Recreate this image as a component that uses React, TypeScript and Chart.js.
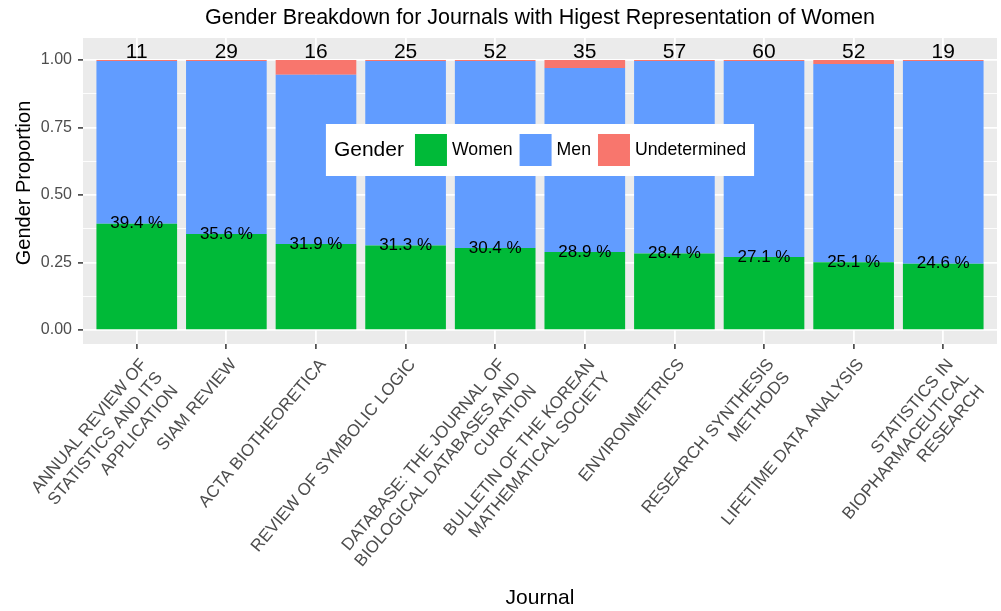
import { useEffect, useRef } from 'react';
import { Chart, registerables } from 'chart.js';

Chart.register(...registerables);

const chartTitle = 'Gender Breakdown for Journals with Higest Representation of Women';
const yAxisTitle = 'Gender Proportion';
const journals: string[][] = [
  ['ANNUAL REVIEW OF', 'STATISTICS AND ITS', 'APPLICATION'],
  ['SIAM REVIEW'],
  ['ACTA BIOTHEORETICA'],
  ['REVIEW OF SYMBOLIC LOGIC'],
  ['DATABASE: THE JOURNAL OF', 'BIOLOGICAL DATABASES AND', 'CURATION'],
  ['BULLETIN OF THE KOREAN', 'MATHEMATICAL SOCIETY'],
  ['ENVIRONMETRICS'],
  ['RESEARCH SYNTHESIS', 'METHODS'],
  ['LIFETIME DATA ANALYSIS'],
  ['STATISTICS IN', 'BIOPHARMACEUTICAL', 'RESEARCH'],
];
const paperCounts: number[] = [11, 29, 16, 25, 52, 35, 57, 60, 52, 19];
const women: number[] = [0.394, 0.356, 0.319, 0.313, 0.304, 0.289, 0.284, 0.271, 0.251, 0.246];
const men: number[] = [0.602, 0.640, 0.626, 0.683, 0.692, 0.681, 0.712, 0.725, 0.734, 0.750];
const undetermined: number[] = [0.004, 0.004, 0.055, 0.004, 0.004, 0.030, 0.004, 0.004, 0.015, 0.004];
const yTicks: number[] = [0, 0.125, 0.25, 0.375, 0.5, 0.625, 0.75, 0.875, 1];
const yMajor: number[] = [0, 0.25, 0.5, 0.75, 1];
const countLabelY = 1.03;

const seriesNames = ['Women', 'Men', 'Undetermined'];
const seriesColors = ['#00BA38', '#619CFF', '#F8766D'];

const FONT = "'Liberation Sans', Arial, Helvetica, sans-serif";

export default function App() {
  const ref = useRef<HTMLCanvasElement | null>(null);

  useEffect(() => {
    const canvas = ref.current;
    if (!canvas) return;
    Chart.defaults.font.family = FONT;

    const toXY = (arr: number[]) => arr.map((v, i) => ({ x: i + 1, y: v }));
    const seriesData = [women, men, undetermined];

    const bgPlugin = {
      id: 'panelBg',
      beforeDraw(chart: any) {
        const { ctx, chartArea } = chart;
        ctx.save();
        ctx.fillStyle = '#EBEBEB';
        ctx.fillRect(chartArea.left, chartArea.top, chartArea.right - chartArea.left, chartArea.bottom - chartArea.top);
        ctx.restore();
      },
    };

    const titlePlugin = {
      id: 'panelTitles',
      afterDraw(chart: any) {
        const { ctx, chartArea } = chart;
        ctx.save();
        ctx.fillStyle = '#000000';
        ctx.textAlign = 'center';
        ctx.textBaseline = 'middle';
        ctx.font = `21.5px ${FONT}`;
        ctx.fillText(chartTitle, (chartArea.left + chartArea.right) / 2, 18);
        ctx.font = `20px ${FONT}`;
        ctx.translate(24, (chartArea.top + chartArea.bottom) / 2 - 8);
        ctx.rotate(-Math.PI / 2);
        ctx.fillText(yAxisTitle, 0, 0);
        ctx.restore();
      },
    };

    const labelPlugin = {
      id: 'barLabels',
      afterDatasetsDraw(chart: any) {
        const { ctx } = chart;
        const xs = chart.scales.x;
        const ys = chart.scales.y;
        ctx.save();
        ctx.fillStyle = '#000000';
        ctx.textAlign = 'center';
        ctx.textBaseline = 'middle';
        ctx.font = `21px ${FONT}`;
        paperCounts.forEach((c, i) => {
          ctx.fillText(String(c), xs.getPixelForValue(i + 1), ys.getPixelForValue(countLabelY));
        });
        ctx.font = `17px ${FONT}`;
        women.forEach((w, i) => {
          ctx.fillText(`${(w * 100).toFixed(1)} %`, xs.getPixelForValue(i + 1), ys.getPixelForValue(w));
        });
        ctx.restore();
      },
    };

    const legendPlugin = {
      id: 'insideLegend',
      afterDraw(chart: any) {
        const { ctx, chartArea } = chart;
        const titleFont = `21px ${FONT}`;
        const itemFont = `17.7px ${FONT}`;
        const pad = 8;
        const key = 32;
        const gapTitle = 11;
        const gapKey = 5;
        const gapItem = 7;
        ctx.save();
        ctx.font = titleFont;
        const tw = ctx.measureText('Gender').width;
        ctx.font = itemFont;
        const iw = seriesNames.map((n) => ctx.measureText(n).width);
        let total = pad + tw + gapTitle;
        iw.forEach((w, i) => {
          total += key + gapKey + w + (i < iw.length - 1 ? gapItem : 0);
        });
        total += pad;
        const h = 52;
        const cx = (chartArea.left + chartArea.right) / 2;
        const cy = chartArea.top + 0.366 * (chartArea.bottom - chartArea.top);
        const x0 = cx - total / 2;
        const y0 = cy - h / 2;
        ctx.fillStyle = '#FFFFFF';
        ctx.fillRect(x0, y0, total, h);
        ctx.textBaseline = 'middle';
        ctx.textAlign = 'left';
        ctx.fillStyle = '#000000';
        ctx.font = titleFont;
        let x = x0 + pad;
        ctx.fillText('Gender', x, cy);
        x += tw + gapTitle;
        ctx.font = itemFont;
        seriesNames.forEach((n, i) => {
          ctx.fillStyle = seriesColors[i];
          ctx.fillRect(x, cy - key / 2, key, key);
          x += key + gapKey;
          ctx.fillStyle = '#000000';
          ctx.fillText(n, x, cy);
          x += iw[i] + gapItem;
        });
        ctx.restore();
      },
    };

    const chart = new Chart(canvas, {
      type: 'bar',
      data: {
        datasets: seriesNames.map((name, k) => ({
          label: name,
          data: toXY(seriesData[k]),
          backgroundColor: seriesColors[k],
          borderWidth: 0,
          barPercentage: 0.9,
          categoryPercentage: 1.0,
        })),
      },
      options: {
        responsive: false,
        animation: false,
        devicePixelRatio: 1,
        layout: { padding: { left: 0, right: 4, top: 38, bottom: 0 } },
        plugins: {
          legend: { display: false },
          tooltip: { enabled: false },
          title: { display: false },
        },
        scales: {
          x: {
            type: 'linear',
            stacked: true,
            min: 0.4,
            max: 10.6,
            offset: false,
            afterBuildTicks: (s: any) => {
              s.ticks = journals.map((_, i) => ({ value: i + 1 }));
            },
            afterFit: (s: any) => {
              s.height = 267;
            },
            ticks: {
              autoSkip: false,
              minRotation: 50,
              maxRotation: 50,
              padding: 6,
              labelOffset: 7,
              color: '#4D4D4D',
              font: { size: 17, family: FONT },
              callback: (v: any) => journals[Math.round(Number(v)) - 1] ?? '',
            },
            grid: {
              offset: false,
              color: '#FFFFFF',
              lineWidth: 1.8,
              tickColor: '#333333',
              tickLength: 5,
              tickWidth: 1.5,
            },
            border: { display: false },
            title: {
              display: true,
              text: 'Journal',
              color: '#000000',
              font: { size: 21, family: FONT },
              padding: { top: 0, bottom: 0 },
            },
          },
          y: {
            type: 'linear',
            stacked: true,
            min: -0.0515,
            max: 1.0815,
            afterBuildTicks: (s: any) => {
              s.ticks = yTicks.map((v) => ({ value: v }));
            },
            afterFit: (s: any) => {
              s.width = 83;
            },
            ticks: {
              padding: 6,
              color: '#4D4D4D',
              font: { size: 16, family: FONT },
              callback: (v: any) => (yMajor.includes(Number(v)) ? Number(v).toFixed(2) : ''),
            },
            grid: {
              color: '#FFFFFF',
              lineWidth: (c: any) => (yMajor.includes(c.tick?.value) ? 1.8 : 0.9),
              tickColor: (c: any) => (yMajor.includes(c.tick?.value) ? '#333333' : 'rgba(0,0,0,0)'),
              tickLength: 5,
              tickWidth: 1.5,
            },
            border: { display: false },
            title: { display: false },
          },
        },
      },
      plugins: [bgPlugin, labelPlugin, legendPlugin, titlePlugin],
    } as any);

    return () => chart.destroy();
  }, []);

  return (
    <div style={{ position: 'absolute', left: 0, top: 0, width: 1001, height: 611, background: '#FFFFFF' }}>
      <canvas ref={ref} width={1001} height={611} />
    </div>
  );
}
